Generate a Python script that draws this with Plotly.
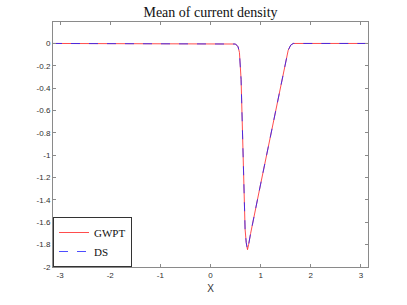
import plotly.graph_objects as go

# Values
x_gwpt = [-3.1416, 0.45, 0.50, 0.55, 0.577, 0.61, 0.636, 0.656, 0.668, 0.69, 0.712, 0.738,
          0.76, 0.80, 1.00, 1.20, 1.40, 1.50, 1.55, 1.60, 1.65, 3.1416]
y_gwpt = [0.0, 0.0, -0.005, -0.03, -0.08, -0.32, -0.76, -1.20, -1.42, -1.66, -1.78, -1.845,
          -1.80, -1.70, -1.258, -0.813, -0.369, -0.15, -0.06, -0.015, 0.0, 0.0]
x_ds = list(x_gwpt)
y_ds = list(y_gwpt)

xticks = [-3, -2, -1, 0, 1, 2, 3]
xticklabels = ["-3", "-2", "-1", "0", "1", "2", "3"]
yticks = [0, -0.2, -0.4, -0.6, -0.8, -1, -1.2, -1.4, -1.6, -1.8, -2]
yticklabels = ["0", "-0.2", "-0.4", "-0.6", "-0.8", "-1", "-1.2", "-1.4", "-1.6", "-1.8", "-2"]

fig = go.Figure()
fig.add_trace(go.Scatter(x=x_gwpt, y=y_gwpt, mode="lines", name="GWPT",
                         line=dict(color="#ff2020", width=0.8)))
fig.add_trace(go.Scatter(x=x_ds, y=y_ds, mode="lines", name="DS",
                         line=dict(color="#2020ff", width=0.8, dash="dash")))

axis_common = dict(showgrid=False, zeroline=False, showline=True, linecolor="#8a8a8a",
                   linewidth=1, mirror="ticks", ticks="inside", ticklen=3, tickcolor="#8a8a8a",
                   tickfont=dict(family="Liberation Sans, Arial, sans-serif", size=8, color="#303030"))

fig.update_layout(
    width=407, height=305,
    margin=dict(l=53, r=39, t=22, b=34),
    paper_bgcolor="white", plot_bgcolor="white",
    title=dict(text="Mean of current density", x=0.5, xanchor="center",
               xref="paper", yref="container", y=0.96, yanchor="middle",
               font=dict(family="Liberation Serif, serif", size=14, color="#111111")),
    xaxis=dict(range=[-3.1416, 3.1416], tickvals=xticks, ticktext=xticklabels,
               title=dict(text="X", standoff=6,
                          font=dict(family="Liberation Sans, Arial, sans-serif", size=10, color="#333333")),
               **axis_common),
    yaxis=dict(range=[-2, 0.192], tickvals=yticks, ticktext=yticklabels, **axis_common),
    legend=dict(x=0, y=0, xanchor="left", yanchor="bottom", bgcolor="white",
                bordercolor="#333333", borderwidth=1,
                font=dict(family="Liberation Serif, serif", size=11, color="#111111"),
                itemwidth=30, tracegroupgap=0),
    showlegend=True,
)

fig.write_html("out.html", config={"displayModeBar": False},
               post_script="document.body.style.margin='0px';")
